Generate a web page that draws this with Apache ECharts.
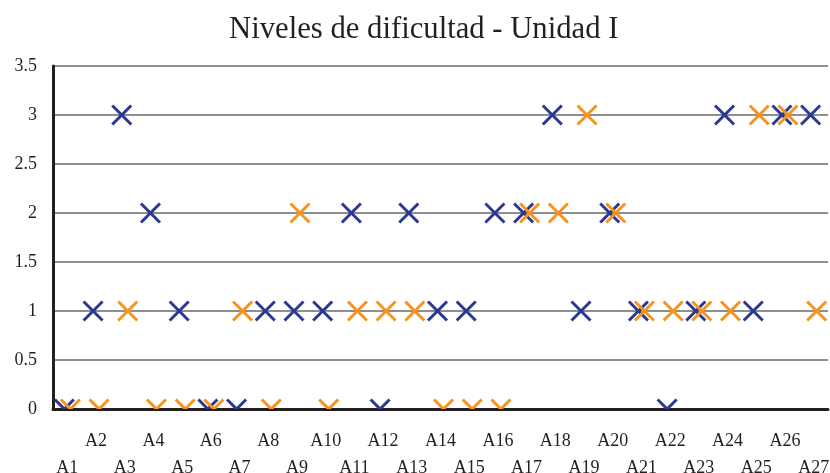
<!DOCTYPE html>
<html>
<head>
<meta charset="utf-8">
<script src="https://cdn.jsdelivr.net/npm/echarts@6/dist/echarts.min.js"></script>
<style>
  html, body { margin: 0; padding: 0; background: #ffffff; }
  #chart { width: 830px; height: 473px; }
</style>
</head>
<body>
<div id="chart"></div>
<script>
// Activity labels along the horizontal axis
const categories = ['A1','A2','A3','A4','A5','A6','A7','A8','A9','A10','A11','A12','A13','A14',
  'A15','A16','A17','A18','A19','A20','A21','A22','A23','A24','A25','A26','A27'];

// Difficulty level per activity, two series of ratings
const seriesBlue = [0,1,3,2,1,0,0,1,1,1,2,0,2,1,1,2,2,3,1,2,1,0,1,3,1,3,3];
const seriesOrange = [0,0,1,0,0,0,1,0,2,0,1,1,1,0,0,0,2,2,3,2,1,1,1,1,3,3,1];

// Vertical axis range and step
const yMin = 0, yMax = 3.5, yStep = 0.5;

const title = 'Niveles de dificultad - Unidad I';

const FONT = '"Liberation Serif", "DejaVu Serif", serif';

// Draws a cross marker at each data point, nudged sideways so the two series sit apart
function crossRenderer(color, shift) {
  const half = 9.5;
  return function (params, api) {
    const p = api.coord([api.value(0), api.value(1)]);
    const cx = p[0] + shift, cy = p[1];
    const style = { stroke: color, lineWidth: 3, lineCap: 'butt' };
    return {
      type: 'group',
      children: [
        { type: 'line', shape: { x1: cx - half, y1: cy - half, x2: cx + half, y2: cy + half }, style: style },
        { type: 'line', shape: { x1: cx - half, y1: cy + half, x2: cx + half, y2: cy - half }, style: style }
      ]
    };
  };
}

function toPairs(values) {
  return values.map((v, i) => [i, v]);
}

const chart = echarts.init(document.getElementById('chart'), null, { renderer: 'canvas' });

chart.setOption({
  backgroundColor: '#ffffff',
  animation: false,
  title: {
    text: title,
    left: 224,
    top: 9,
    textStyle: { fontFamily: FONT, fontSize: 30.7, fontWeight: 'normal', color: '#231f20' }
  },
  grid: { left: 53, right: 2, top: 66, bottom: 64, containLabel: false, outerBoundsMode: 'none' },
  xAxis: {
    type: 'category',
    data: categories,
    boundaryGap: true,
    axisLine: { show: true, lineStyle: { color: '#231f20', width: 3 } },
    axisTick: { show: false },
    splitLine: { show: false },
    axisLabel: {
      interval: 0,
      margin: 19,
      fontFamily: FONT,
      fontSize: 18,
      lineHeight: 27,
      color: '#231f20',
      formatter: function (value, index) {
        return index % 2 === 0 ? '\n' + value : value;
      }
    }
  },
  yAxis: {
    type: 'value',
    min: yMin,
    max: yMax,
    interval: yStep,
    axisLine: { show: true, lineStyle: { color: '#231f20', width: 3 } },
    axisTick: { show: false },
    splitLine: { show: true, lineStyle: { color: '#6a6a6a', width: 1.5 } },
    axisLabel: {
      margin: 16,
      fontFamily: FONT,
      fontSize: 18,
      color: '#231f20'
    }
  },
  series: [
    {
      name: 'Serie 1',
      type: 'custom',
      clip: true,
      renderItem: crossRenderer('#2b3990', -3),
      data: toPairs(seriesBlue),
      z: 3
    },
    {
      name: 'Serie 2',
      type: 'custom',
      clip: true,
      renderItem: crossRenderer('#f7941d', 3),
      data: toPairs(seriesOrange),
      z: 4
    }
  ]
});
</script>
</body>
</html>
